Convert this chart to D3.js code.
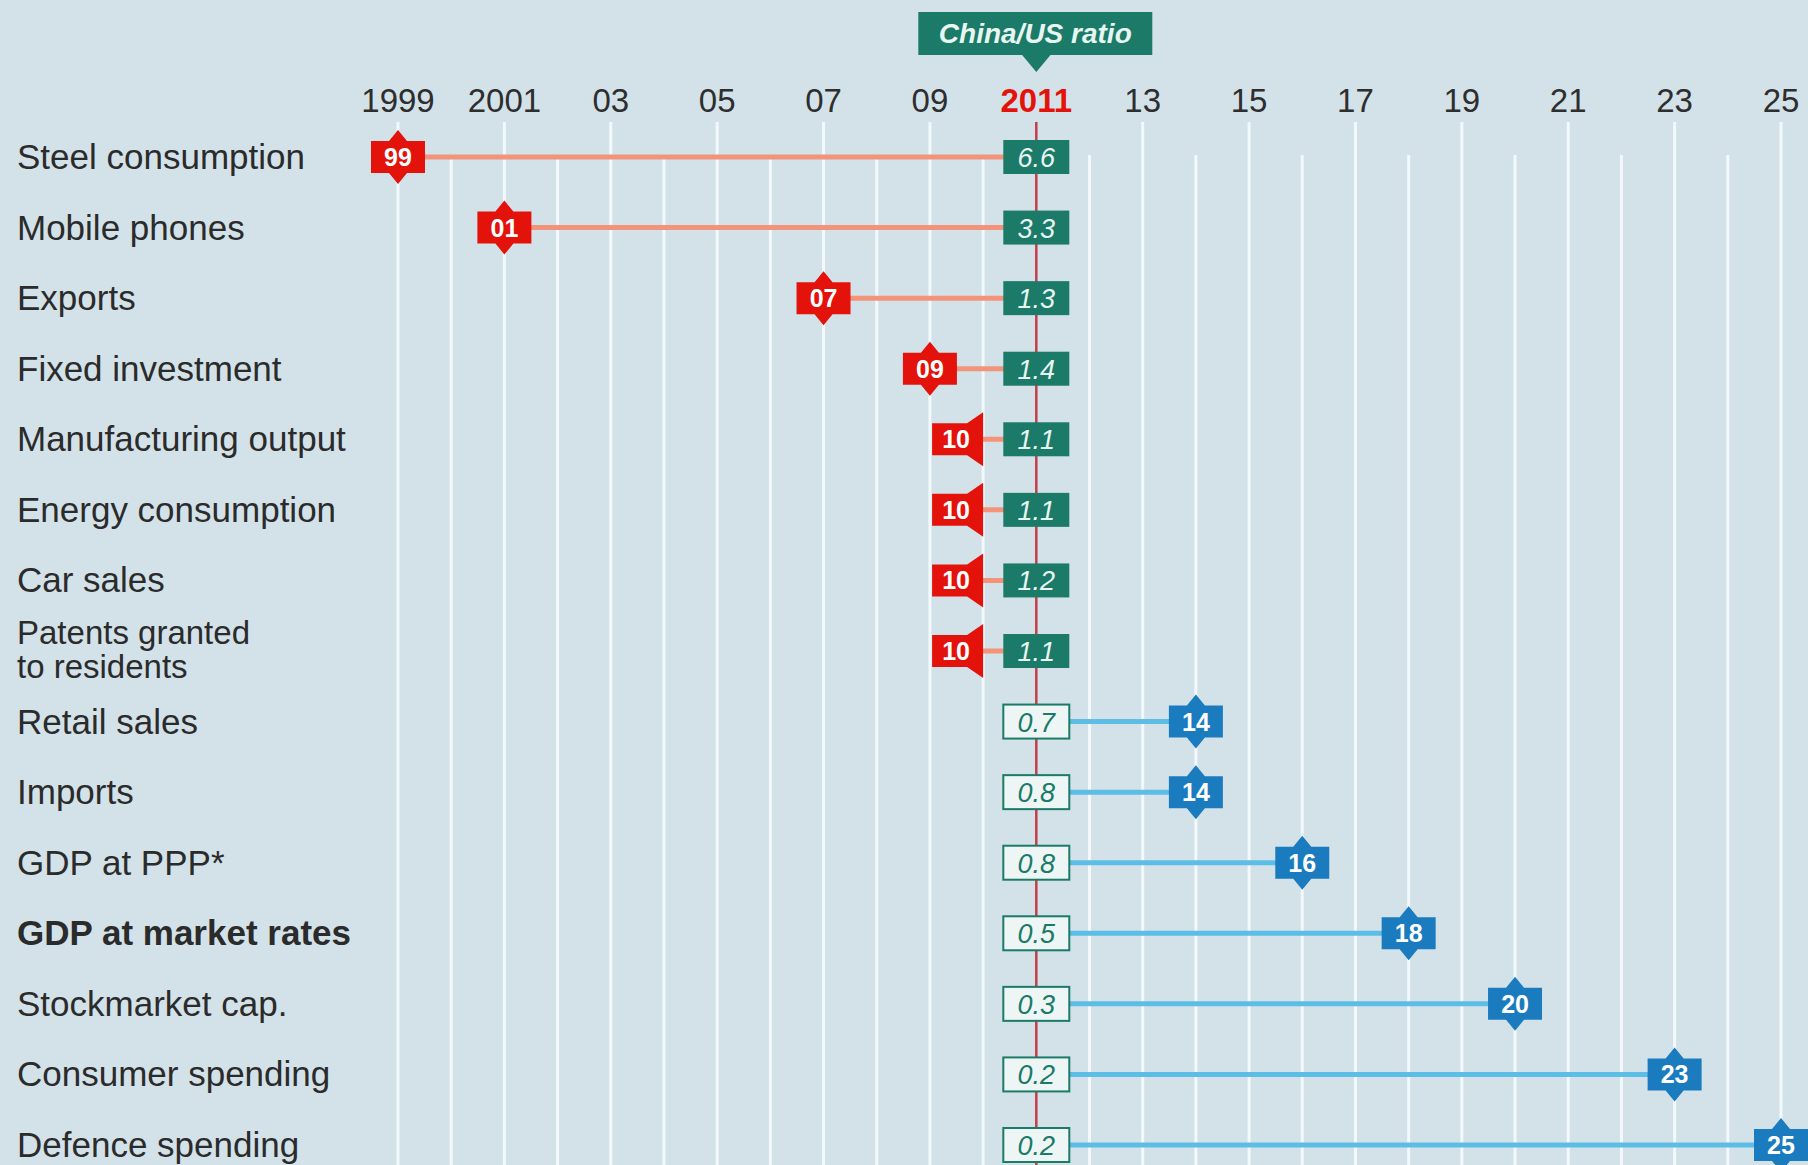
<!DOCTYPE html>
<html>
<head>
<meta charset="utf-8">
<script src="https://cdn.jsdelivr.net/npm/d3@7"></script>
<style>
body { margin: 0; background: #d3e2e9; }
svg { display: block; }
text { font-family: 'Liberation Sans', Arial, sans-serif; }
</style>
</head>
<body>
<script>
// Data
let categories = ['Steel consumption', 'Mobile phones', 'Exports', 'Fixed investment',
    'Manufacturing output', 'Energy consumption', 'Car sales', 'Patents granted\nto residents',
    'Retail sales', 'Imports', 'GDP at PPP*', 'GDP at market rates', 'Stockmarket cap.',
    'Consumer spending', 'Defence spending'];
let crossYears = [1999, 2001, 2007, 2009, 2010, 2010, 2010, 2010, 2014, 2014, 2016, 2018, 2020, 2023, 2025];
let ratios = [6.6, 3.3, 1.3, 1.4, 1.1, 1.1, 1.2, 1.1, 0.7, 0.8, 0.8, 0.5, 0.3, 0.2, 0.2];
let tickYears = [1999, 2001, 2003, 2005, 2007, 2009, 2011, 2013, 2015, 2017, 2019, 2021, 2023, 2025];
let tickLabels = ['1999', '2001', '03', '05', '07', '09', '2011', '13', '15', '17', '19', '21', '23', '25'];
let minorYears = [2000, 2002, 2004, 2006, 2008, 2010, 2012, 2014, 2016, 2018, 2020, 2022, 2024];
let boldRows = ['GDP at market rates'];
let baseYear = 2011;

let width = 1808, height = 1165;

let svg = d3.select('body').append('svg')
    .attr('width', width)
    .attr('height', height);

svg.append('rect')
    .attr('width', width)
    .attr('height', height)
    .attr('fill', '#d3e2e9');

let x = d3.scaleLinear().domain([1999, 2025]).range([398, 1781]);
let y = d3.scalePoint().domain(categories).range([157, 1145]);

let rows = categories.map((c, i) => ({
    name: c,
    year: crossYears[i],
    ratio: ratios[i],
    passed: crossYears[i] <= baseYear
}));

// Grid lines
svg.selectAll('.minor').data(minorYears).enter().append('line')
    .attr('class', 'minor')
    .attr('x1', d => x(d)).attr('x2', d => x(d))
    .attr('y1', 155).attr('y2', height)
    .attr('stroke', '#f2f8fb').attr('stroke-width', 3);

svg.selectAll('.major').data(tickYears.filter(d => d !== baseYear)).enter().append('line')
    .attr('class', 'major')
    .attr('x1', d => x(d)).attr('x2', d => x(d))
    .attr('y1', 122).attr('y2', height)
    .attr('stroke', '#f2f8fb').attr('stroke-width', 3);

svg.append('line')
    .attr('x1', x(baseYear)).attr('x2', x(baseYear))
    .attr('y1', 122).attr('y2', height)
    .attr('stroke', '#c23e48').attr('stroke-width', 2.5);

// Year labels
svg.selectAll('.year').data(tickYears).enter().append('text')
    .attr('class', 'year')
    .attr('x', d => x(d))
    .attr('y', 112)
    .attr('text-anchor', 'middle')
    .attr('font-size', 33)
    .attr('font-weight', d => d === baseYear ? 'bold' : 'normal')
    .attr('fill', d => d === baseYear ? '#e3120b' : '#2e2e2e')
    .text((d, i) => tickLabels[i]);

// China/US ratio call-out
let cx = x(baseYear);
svg.append('rect')
    .attr('x', cx - 118).attr('y', 12)
    .attr('width', 234).attr('height', 43)
    .attr('fill', '#1b7a68');
svg.append('path')
    .attr('d', `M${cx - 15},54 L${cx + 15},54 L${cx},72 Z`)
    .attr('fill', '#1b7a68');
svg.append('text')
    .attr('x', cx - 1).attr('y', 43)
    .attr('text-anchor', 'middle')
    .attr('font-size', 28)
    .attr('font-style', 'italic')
    .attr('font-weight', 'bold')
    .attr('fill', '#e8f6f1')
    .text('China/US ratio');

// Row labels
let labels = svg.selectAll('.label').data(rows).enter().append('text')
    .attr('class', 'label')
    .attr('x', 17)
    .attr('y', d => y(d.name) + 12)
    .attr('font-size', 35)
    .attr('font-weight', d => boldRows.includes(d.name) ? 'bold' : 'normal')
    .attr('fill', '#2b2b2b');

labels.each(function(d) {
    let parts = d.name.split('\n');
    let t = d3.select(this);
    if (parts.length === 1) {
        t.text(parts[0]);
    } else {
        // two-line label sits a bit tighter
        t.attr('font-size', 33);
        parts.forEach((p, i) => {
            t.append('tspan')
                .attr('x', 17)
                .attr('y', y(d.name) + (i === 0 ? -7 : 27))
                .text(p);
        });
    }
});

// Connector lines
svg.selectAll('.link').data(rows).enter().append('line')
    .attr('class', 'link')
    .attr('x1', cx).attr('x2', d => x(d.year))
    .attr('y1', d => y(d.name)).attr('y2', d => y(d.name))
    .attr('stroke', d => d.passed ? '#f2937a' : '#5cbde6')
    .attr('stroke-width', 5);

// Ratio boxes
let boxes = svg.selectAll('.ratio').data(rows).enter().append('g')
    .attr('class', 'ratio')
    .attr('transform', d => `translate(${cx}, ${y(d.name)})`);

boxes.append('rect')
    .attr('x', -33).attr('y', -17)
    .attr('width', 66).attr('height', 34)
    .attr('fill', d => d.ratio >= 1 ? '#1b7a68' : '#edf6f4')
    .attr('stroke', '#1b7a68')
    .attr('stroke-width', d => d.ratio >= 1 ? 0 : 2);

boxes.append('text')
    .attr('y', 10)
    .attr('text-anchor', 'middle')
    .attr('font-size', 27)
    .attr('font-style', 'italic')
    .attr('fill', d => d.ratio >= 1 ? '#e8f6f1' : '#1b7a68')
    .text(d => d.ratio.toFixed(1));

// Crossover markers
let bw = 27, bh = 16, sp = 11, sw = 9;
function markerPath(shifted) {
    if (shifted) {
        return `M-51,${-bh} L-16,${-bh} L0,${-bh - sp} L0,${bh + sp} L-16,${bh} L-51,${bh} Z`;
    }
    return `M${-bw},${-bh} L${-sw},${-bh} L0,${-bh - sp} L${sw},${-bh} L${bw},${-bh} ` +
        `L${bw},${bh} L${sw},${bh} L0,${bh + sp} L${-sw},${bh} L${-bw},${bh} Z`;
}

let markers = svg.selectAll('.marker').data(rows).enter().append('g')
    .attr('class', 'marker')
    .attr('transform', d => `translate(${x(d.year)}, ${y(d.name)})`);

markers.each(function(d) {
    let m = d3.select(this);
    let shifted = Math.abs(cx - x(d.year)) < 70;
    m.append('path')
        .attr('d', markerPath(shifted))
        .attr('fill', d.passed ? '#e3120b' : '#1a7bbf');
    m.append('text')
        .attr('x', shifted ? -27 : 0)
        .attr('y', 9)
        .attr('text-anchor', 'middle')
        .attr('font-size', 25)
        .attr('font-weight', 'bold')
        .attr('fill', '#ffffff')
        .text(String(d.year).slice(2));
});
</script>
</body>
</html>
